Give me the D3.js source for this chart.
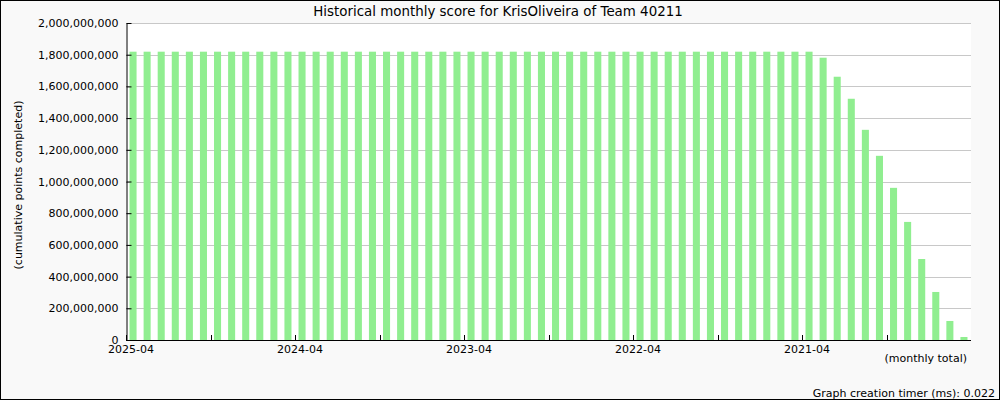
<!DOCTYPE html>
<html>
<head>
<meta charset="utf-8">
<script src="https://cdn.jsdelivr.net/npm/d3@7"></script>
<style>
  html, body { margin: 0; padding: 0; background: #f9f9f9; }
  svg { display: block; }
  text { font-family: "DejaVu Sans", sans-serif; fill: #000; }
</style>
</head>
<body>
<svg id="chart" width="1000" height="400"></svg>
<script>
// Months, most recent first (2025-04 back to 2020-05)
const months = [];
(function () {
  let y = 2025, m = 4;
  for (let i = 0; i < 60; i++) {
    months.push(y + "-" + String(m).padStart(2, "0"));
    m--; if (m === 0) { m = 12; y--; }
  }
})();

// Cumulative points completed, same order as months
const scores = [
  1819000000, 1819000000, 1819000000, 1819000000, 1819000000, 1819000000,
  1819000000, 1819000000, 1819000000, 1819000000, 1819000000, 1819000000,
  1819000000, 1819000000, 1819000000, 1819000000, 1819000000, 1819000000,
  1819000000, 1819000000, 1819000000, 1819000000, 1819000000, 1819000000,
  1819000000, 1819000000, 1819000000, 1819000000, 1819000000, 1819000000,
  1819000000, 1819000000, 1819000000, 1819000000, 1819000000, 1819000000,
  1819000000, 1819000000, 1819000000, 1819000000, 1819000000, 1819000000,
  1819000000, 1819000000, 1819000000, 1819000000, 1819000000, 1819000000,
  1819000000,
  1781000000, 1661000000, 1522000000, 1326000000, 1162000000, 960000000,
  745000000, 511000000, 303000000, 120000000, 19000000
];

const yTicks = [0, 200000000, 400000000, 600000000, 800000000, 1000000000,
  1200000000, 1400000000, 1600000000, 1800000000, 2000000000];

const titleText = "Historical monthly score for KrisOliveira of Team 40211";
const yLabelText = "(cumulative points completed)";
const xLabelText = "(monthly total)";
const footerText = "Graph creation timer (ms): 0.022";

const svg = d3.select("#chart");
const W = 1000, H = 400;
const L = 126, R = 971, T = 23, B = 340;

// background + border
svg.append("rect").attr("x", 0.5).attr("y", 0.5).attr("width", W - 1).attr("height", H - 1)
  .attr("fill", "#f9f9f9").attr("stroke", "#000").attr("stroke-width", 1);
svg.append("rect").attr("x", L).attr("y", T).attr("width", R - L).attr("height", B - T)
  .attr("fill", "#fff");

const x = d3.scaleBand().domain(months).range([L, R]).paddingInner(0.5).paddingOuter(0.25);
const xb = d3.scaleBand().domain(months).range([L, R]);
const y = d3.scaleLinear().domain([0, 2000000000]).range([B, T]);

// gridlines
svg.append("g").selectAll("line").data(yTicks.filter(d => d > 0)).join("line")
  .attr("x1", L).attr("x2", R)
  .attr("y1", d => Math.round(y(d)) + 0.5).attr("y2", d => Math.round(y(d)) + 0.5)
  .attr("stroke", "#c8c8c8").attr("stroke-width", 1);

// bars
svg.append("g").selectAll("rect").data(months).join("rect")
  .attr("x", (d) => x(d))
  .attr("width", x.bandwidth())
  .attr("y", (d, i) => y(scores[i]))
  .attr("height", (d, i) => B - y(scores[i]))
  .attr("fill", "#90ee90");

// y axis
const fmt = d3.format(",");
const yAxis = d3.axisLeft(y).tickValues(yTicks).tickFormat(fmt).tickSizeInner(-5).tickSizeOuter(0).tickPadding(8);
const gy = svg.append("g").attr("transform", `translate(${L + 0.5},0)`).call(yAxis);
gy.select(".domain").attr("stroke", "#000");
gy.selectAll("text").style("font-size", "11px").style("font-family", "DejaVu Sans");

// x axis: ticks every 6 months at band starts, labels every 12
const tickMonths = months.filter((d, i) => i % 6 === 0);
const gx = svg.append("g");
gx.append("line").attr("x1", L).attr("x2", R).attr("y1", B + 0.5).attr("y2", B + 0.5).attr("stroke", "#000");
gx.selectAll("line.tk").data(tickMonths).join("line").attr("class", "tk")
  .attr("x1", d => Math.round(xb(d)) + 0.5).attr("x2", d => Math.round(xb(d)) + 0.5)
  .attr("y1", B - 5).attr("y2", B).attr("stroke", "#000");
gx.selectAll("text").data(months.filter((d, i) => i % 12 === 0)).join("text")
  .attr("x", d => xb(d) + 5).attr("y", B + 13)
  .attr("text-anchor", "middle").style("font-size", "11px").text(d => d);

// title and labels
svg.append("text").attr("x", 498).attr("y", 16).attr("text-anchor", "middle")
  .style("font-size", "13.4px").text(titleText);
svg.append("text").attr("transform", "translate(22,185) rotate(-90)").attr("text-anchor", "middle")
  .style("font-size", "11px").text(yLabelText);
svg.append("text").attr("x", 967).attr("y", 362).attr("text-anchor", "end")
  .style("font-size", "11px").text(xLabelText);
svg.append("text").attr("x", 995).attr("y", 397).attr("text-anchor", "end")
  .style("font-size", "11px").text(footerText);
</script>
</body>
</html>
